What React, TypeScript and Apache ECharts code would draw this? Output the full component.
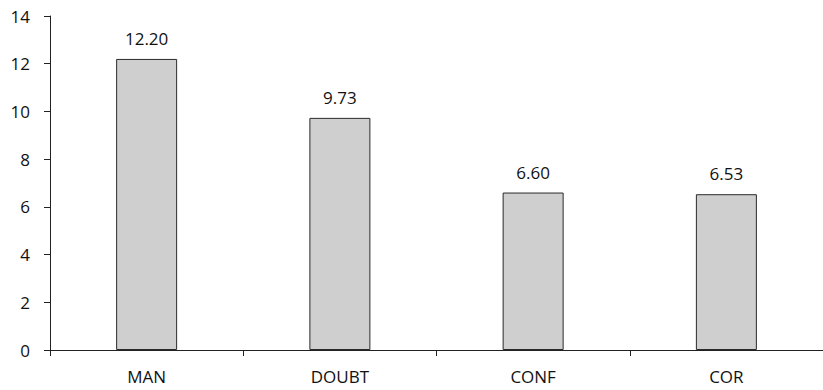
import React, { useEffect, useRef } from "react";
import * as echarts from "echarts";

const categories = ["MAN", "DOUBT", "CONF", "COR"];
const values = [12.2, 9.73, 6.6, 6.53];
const yTicks = { min: 0, max: 14, interval: 2 };

export default function App() {
  const ref = useRef<HTMLDivElement>(null);

  useEffect(() => {
    if (!ref.current) return;
    const chart = echarts.init(ref.current, null, { renderer: "svg" });
    const font = "'Open Sans', 'Noto Sans', sans-serif";
    chart.setOption({
      animation: false,
      backgroundColor: "#ffffff",
      grid: { left: 50, top: 16, bottom: 40, width: 782 },
      xAxis: {
        type: "category",
        data: categories,
        axisLine: { lineStyle: { color: "#222", width: 1 } },
        axisTick: { show: true, alignWithLabel: false, length: 6, lineStyle: { color: "#222" } },
        axisLabel: { color: "#111", fontFamily: font, fontSize: 17, margin: 18 },
      },
      yAxis: {
        type: "value",
        min: yTicks.min,
        max: yTicks.max,
        interval: yTicks.interval,
        axisLine: { show: true, lineStyle: { color: "#222", width: 1 } },
        axisTick: { show: true, length: 6, lineStyle: { color: "#222" } },
        splitLine: { show: false },
        axisLabel: { color: "#111", fontFamily: font, fontSize: 17, margin: 20 },
      },
      series: [
        {
          type: "bar",
          data: values,
          barWidth: 61,
          itemStyle: { color: "#d0cfd0", borderColor: "#2a2a2a", borderWidth: 1 },
          label: {
            show: true,
            position: "top",
            distance: 12,
            color: "#111",
            fontFamily: font,
            fontSize: 17,
            formatter: (p: any) => p.value.toFixed(2),
          },
        },
      ],
    });
    return () => chart.dispose();
  }, []);

  return <div ref={ref} style={{ width: 823, height: 390, position: "absolute", left: 0, top: 0 }} />;
}
